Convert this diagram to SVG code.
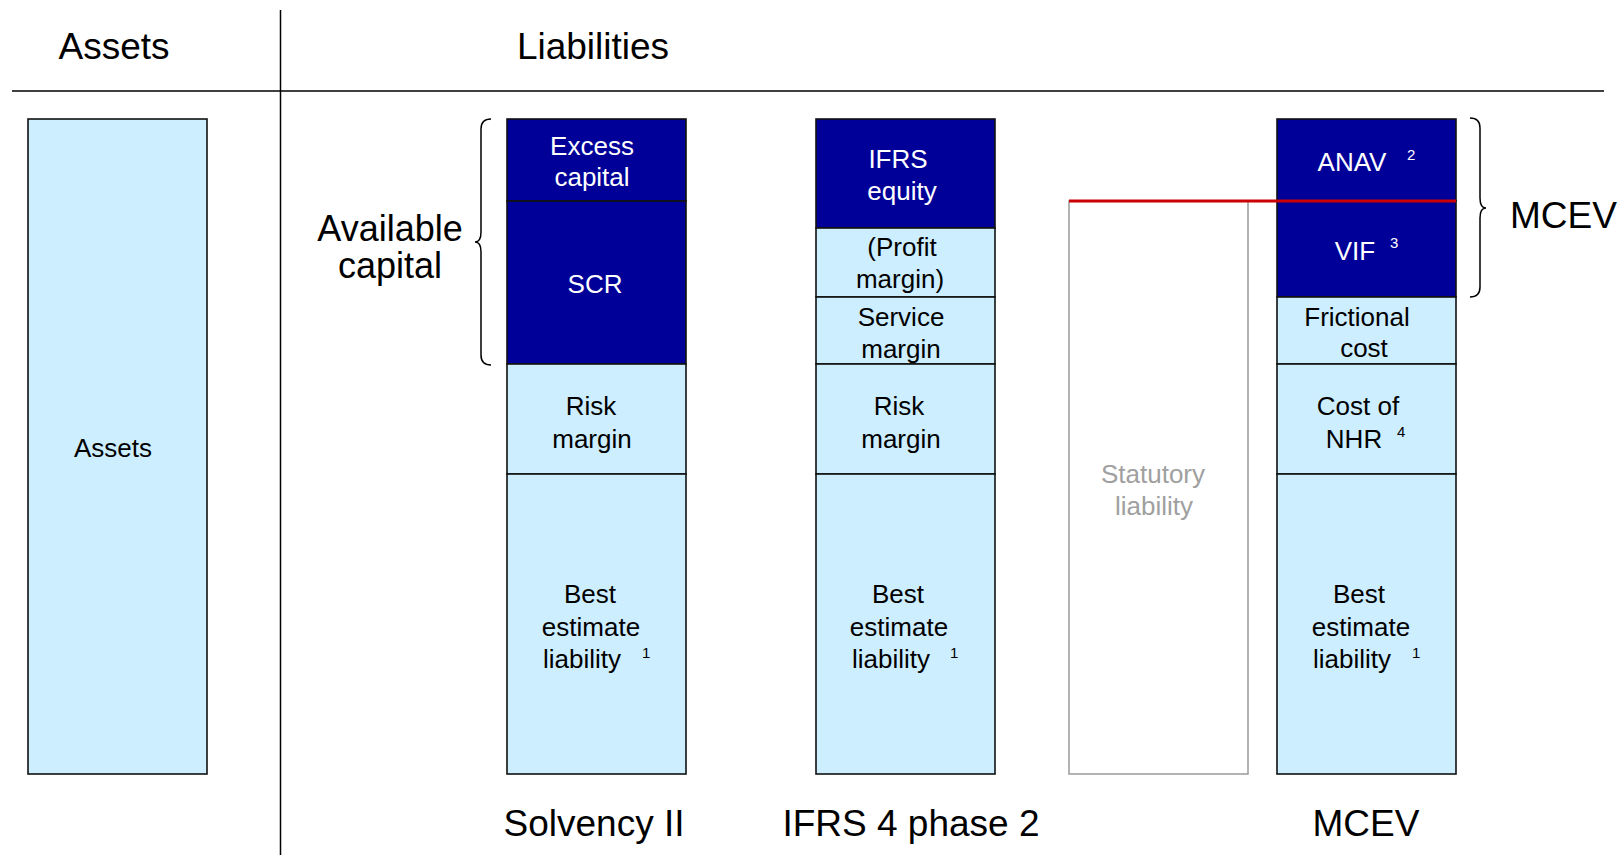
<svg xmlns="http://www.w3.org/2000/svg" width="1623" height="855" viewBox="0 0 1623 855">
  <style>
    text { font-family: "Liberation Sans", Arial, sans-serif; }
    .hdr { font-size: 37px; fill: #000; }
    .lbl { font-size: 26px; fill: #000; text-anchor: middle; }
    .lbl-s { font-size: 26px; fill: #000; text-anchor: start; }
    .lbl-w { font-size: 26px; fill: #fff; text-anchor: middle; }
    .lbl-g { font-size: 26px; fill: #a0a0a0; text-anchor: middle; }
    .sup { font-size: 15px; fill: #000; }
    .sup-w { font-size: 15px; fill: #fff; }
    .dark { fill: #000099; stroke: #111; stroke-width: 1.6; }
    .light { fill: #cdeeff; stroke: #111; stroke-width: 1.6; }
    .rule { stroke: #000; stroke-width: 1.5; fill: none; }
    .brace { stroke: #000; stroke-width: 1.5; fill: none; }
  </style>

  <!-- balance sheet frame -->
  <g id="frame">
    <line class="rule" x1="280.5" y1="10" x2="280.5" y2="855"/>
    <line class="rule" x1="12" y1="91" x2="1604" y2="91"/>
    <text class="hdr" x="114" y="59" text-anchor="middle">Assets</text>
    <text class="hdr" x="593" y="59" text-anchor="middle">Liabilities</text>
  </g>

  <!-- assets column -->
  <g id="assets">
    <rect class="light" x="28" y="119" width="179" height="655"/>
    <text class="lbl" x="113" y="457">Assets</text>
  </g>

  <!-- Solvency II column -->
  <g id="solvency2">
    <rect class="dark" x="507" y="119" width="179" height="82"/>
    <text class="lbl-w" x="592" y="155">Excess</text>
    <text class="lbl-w" x="592" y="186">capital</text>
    <rect class="dark" x="507" y="201" width="179" height="163"/>
    <text class="lbl-w" x="595" y="293">SCR</text>
    <rect class="light" x="507" y="364" width="179" height="110"/>
    <text class="lbl" x="591" y="415">Risk</text>
    <text class="lbl" x="592" y="448">margin</text>
    <rect class="light" x="507" y="474" width="179" height="300"/>
    <text class="lbl" x="590" y="603">Best</text>
    <text class="lbl" x="591" y="636">estimate</text>
    <text class="lbl-s" x="543" y="668">liability</text>
    <text class="sup" x="642" y="658">1</text>
    <text class="hdr" x="594" y="836" text-anchor="middle">Solvency II</text>
  </g>

  <!-- IFRS 4 phase 2 column -->
  <g id="ifrs4">
    <rect class="dark" x="816" y="119" width="179" height="109"/>
    <text class="lbl-w" x="898" y="168">IFRS</text>
    <text class="lbl-w" x="902" y="200">equity</text>
    <rect class="light" x="816" y="228" width="179" height="69"/>
    <text class="lbl" x="902" y="256">(Profit</text>
    <text class="lbl" x="900" y="288">margin)</text>
    <rect class="light" x="816" y="297" width="179" height="67"/>
    <text class="lbl" x="901" y="326">Service</text>
    <text class="lbl" x="901" y="358">margin</text>
    <rect class="light" x="816" y="364" width="179" height="110"/>
    <text class="lbl" x="899" y="415">Risk</text>
    <text class="lbl" x="901" y="448">margin</text>
    <rect class="light" x="816" y="474" width="179" height="300"/>
    <text class="lbl" x="898" y="603">Best</text>
    <text class="lbl" x="899" y="636">estimate</text>
    <text class="lbl-s" x="852" y="668">liability</text>
    <text class="sup" x="950" y="658">1</text>
    <text class="hdr" x="911" y="836" text-anchor="middle">IFRS 4 phase 2</text>
  </g>

  <!-- statutory liability outline -->
  <g id="statutory">
    <rect x="1069" y="201" width="179" height="573" fill="#fff" stroke="#a0a0a0" stroke-width="1.6"/>
    <text class="lbl-g" x="1153" y="483">Statutory</text>
    <text class="lbl-g" x="1154" y="515">liability</text>
  </g>

  <!-- MCEV column -->
  <g id="mcev">
    <rect class="dark" x="1277" y="119" width="179" height="82"/>
    <text class="lbl-w" x="1352" y="171">ANAV</text>
    <text class="sup-w" x="1407" y="160">2</text>
    <rect class="dark" x="1277" y="201" width="179" height="96"/>
    <text class="lbl-w" x="1355" y="260">VIF</text>
    <text class="sup-w" x="1390" y="248">3</text>
    <rect class="light" x="1277" y="297" width="179" height="67"/>
    <text class="lbl" x="1357" y="326">Frictional</text>
    <text class="lbl" x="1364" y="357">cost</text>
    <rect class="light" x="1277" y="364" width="179" height="110"/>
    <text class="lbl" x="1358" y="415">Cost of</text>
    <text class="lbl" x="1354" y="448">NHR</text>
    <text class="sup" x="1397" y="437">4</text>
    <rect class="light" x="1277" y="474" width="179" height="300"/>
    <text class="lbl" x="1359" y="603">Best</text>
    <text class="lbl" x="1361" y="636">estimate</text>
    <text class="lbl-s" x="1313" y="668">liability</text>
    <text class="sup" x="1412" y="658">1</text>
    <text class="hdr" x="1366" y="836" text-anchor="middle">MCEV</text>
  </g>

  <!-- braces and the statutory level line -->
  <g id="connectors">
    <line x1="1069" y1="201" x2="1456" y2="201" stroke="#cc0000" stroke-width="3"/>
    <path class="brace" d="M 491 119 Q 481 119 481 129 L 481 232 Q 481 242 475 242 Q 481 242 481 252 L 481 355 Q 481 365 491 365"/>
    <path class="brace" d="M 1470 118 Q 1480 118 1480 128 L 1480 198 Q 1480 208 1486 208 Q 1480 208 1480 218 L 1480 287 Q 1480 297 1470 297"/>
  </g>

  <g id="available-capital">
    <text class="hdr" x="390" y="241" text-anchor="middle" style="font-size:36px">Available</text>
    <text class="hdr" x="390" y="278" text-anchor="middle" style="font-size:36px">capital</text>
  </g>

  <g id="mcev-total">
    <text class="hdr" x="1510" y="228">MCEV</text>
  </g>
</svg>
